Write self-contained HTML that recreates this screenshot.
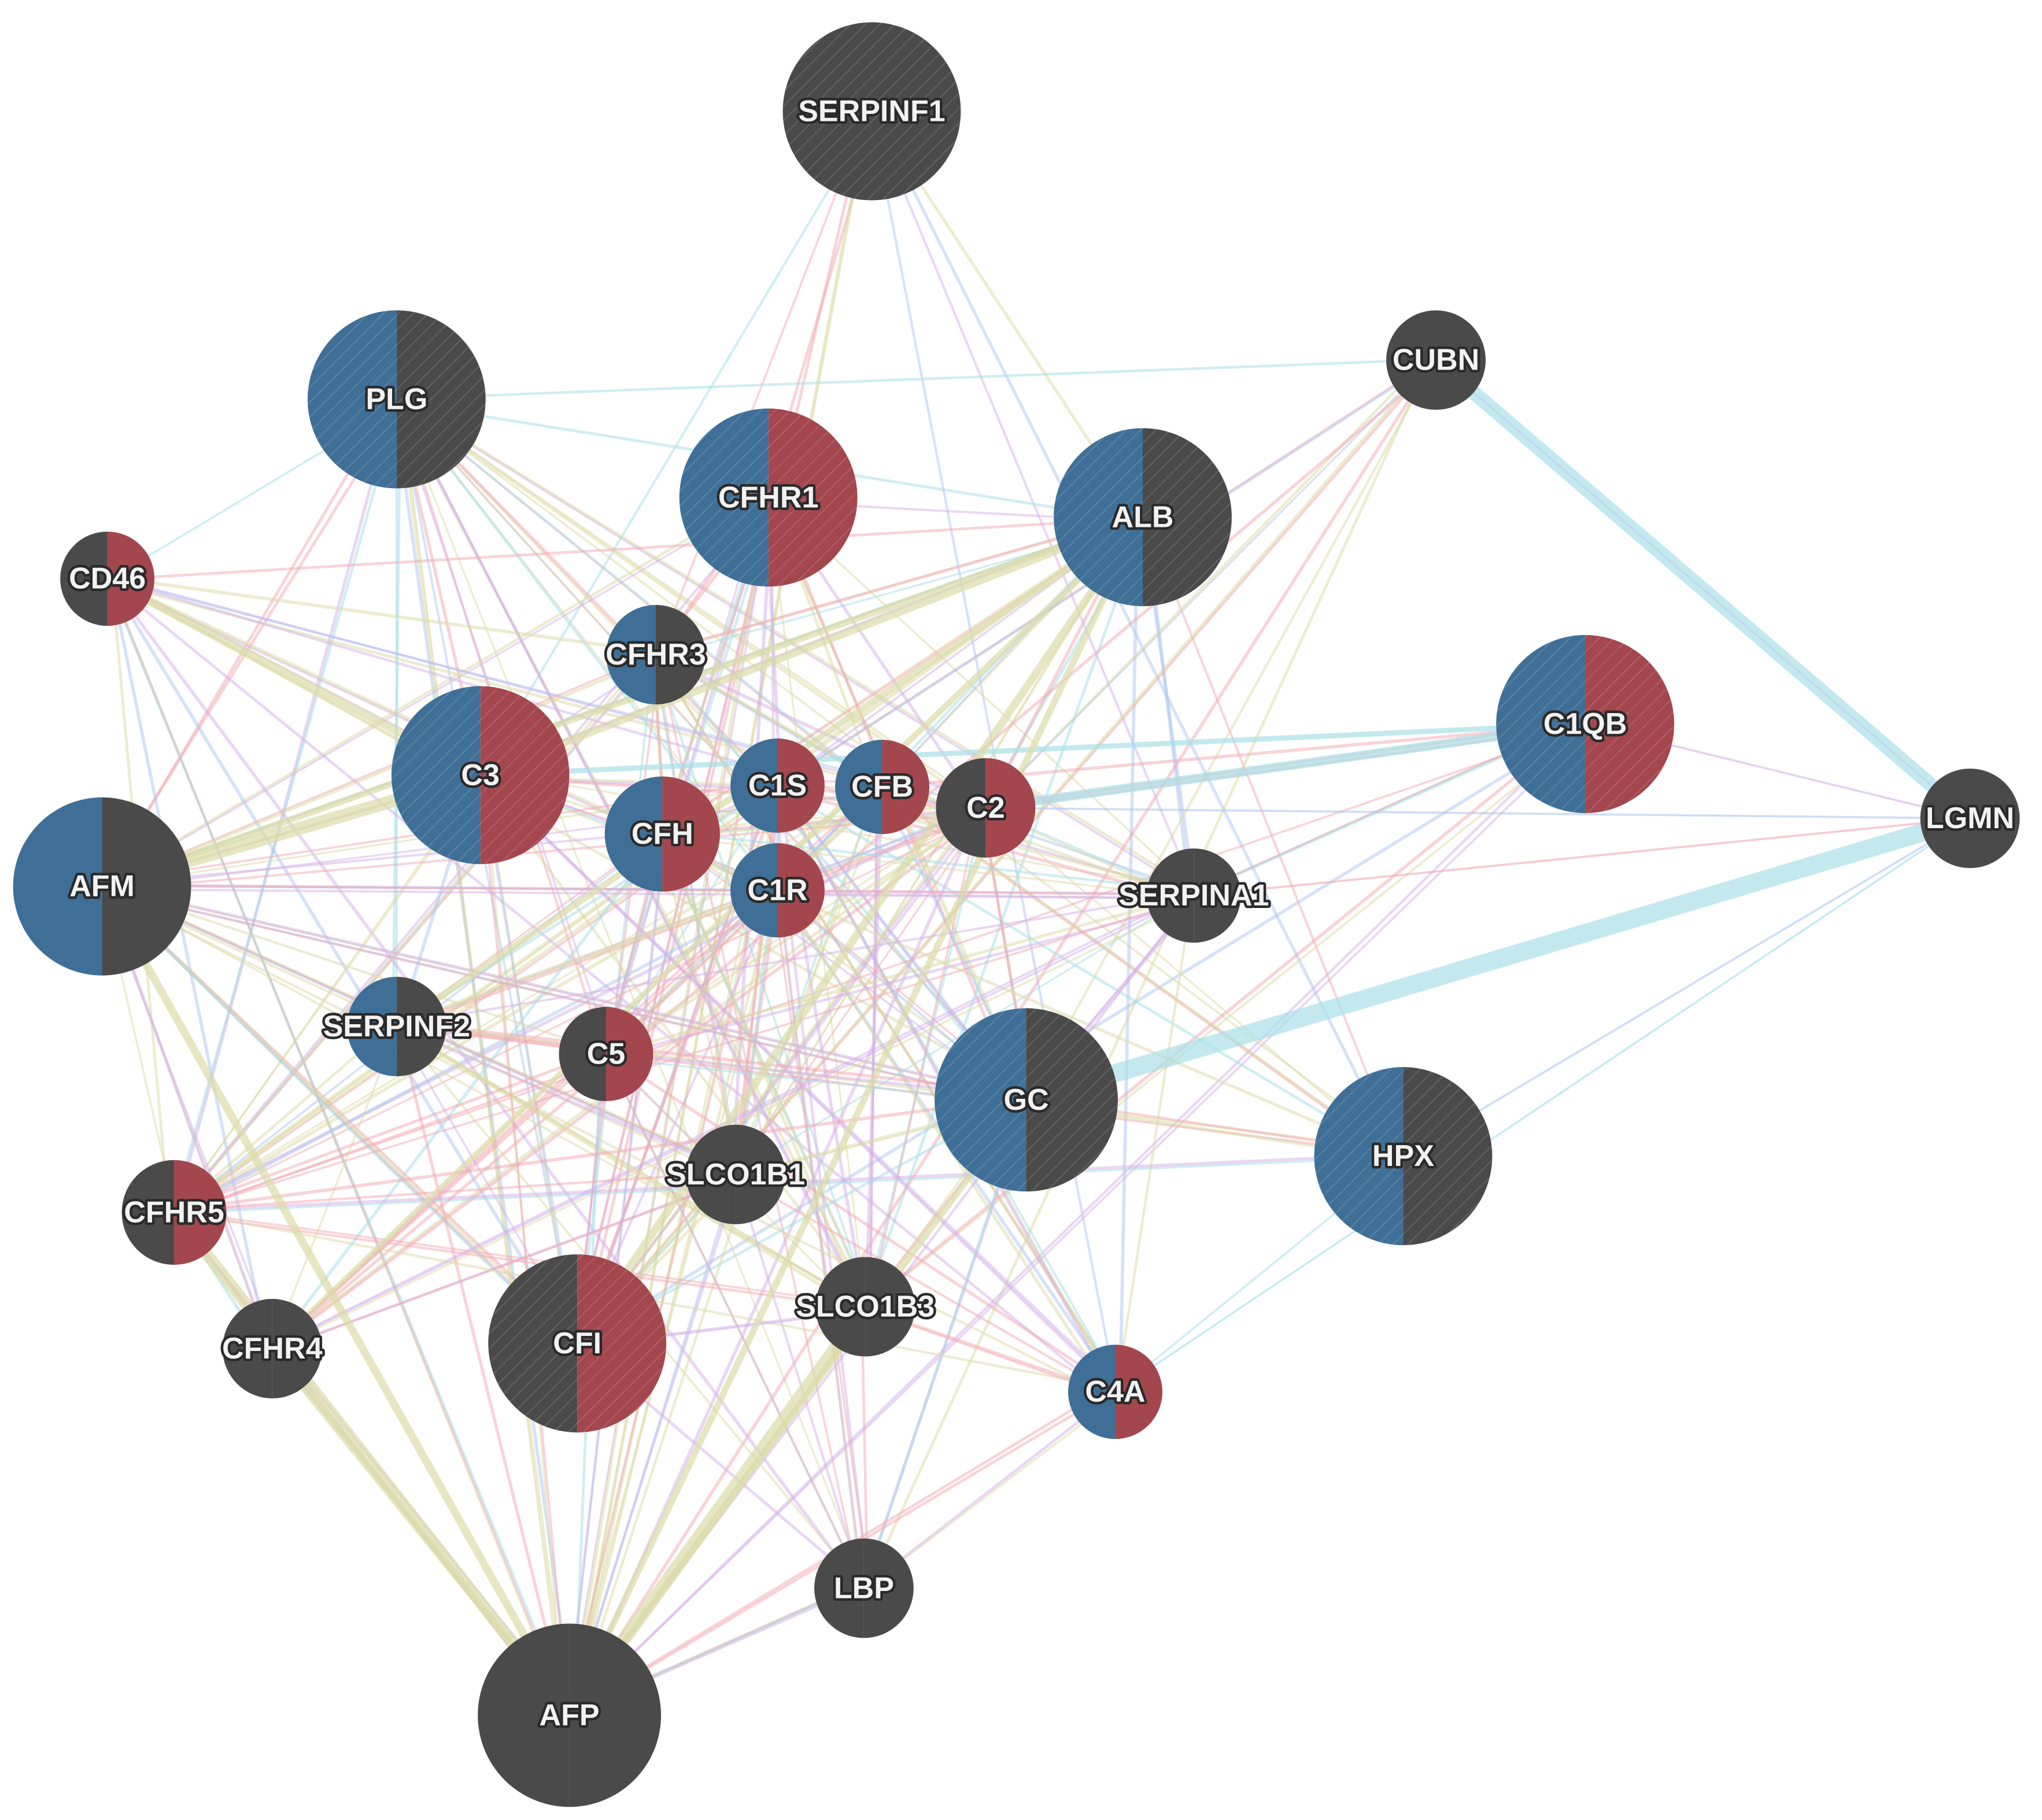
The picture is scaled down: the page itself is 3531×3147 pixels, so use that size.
<!DOCTYPE html>
<html><head><meta charset="utf-8">
<style>
html,body{margin:0;padding:0;background:#fff;}
svg{display:block;}
text{font-family:"Liberation Sans",Arial,sans-serif;font-size:23px;font-weight:bold;fill:#f2f2f2;stroke:#2a2a2a;stroke-width:4px;paint-order:stroke;stroke-linejoin:round;text-anchor:middle;dominant-baseline:central;}
</style></head>
<body>
<svg id="s" width="3531" height="3147" viewBox="0 0 1560 1390" preserveAspectRatio="none" xmlns="http://www.w3.org/2000/svg">
<defs>
<pattern id="h" width="8" height="8" patternUnits="userSpaceOnUse" patternTransform="rotate(45)">
<line x1="0" y1="0" x2="0" y2="8" stroke="#ffffff" stroke-opacity="0.12" stroke-width="2"/>
</pattern>
</defs>
<g id="edges"></g>
<g id="thick"></g>
<g id="nodes"></g>
<g id="labels">
<text x="666" y="85">SERPINF1</text>
<text x="303" y="305">PLG</text>
<text x="587" y="380">CFHR1</text>
<text x="873" y="395">ALB</text>
<text x="1097" y="275">CUBN</text>
<text x="82" y="442">CD46</text>
<text x="501" y="500">CFHR3</text>
<text x="1211" y="553">C1QB</text>
<text x="1505" y="625">LGMN</text>
<text x="367" y="592">C3</text>
<text x="594" y="600">C1S</text>
<text x="674" y="601">CFB</text>
<text x="753" y="617">C2</text>
<text x="506" y="637">CFH</text>
<text x="594" y="680">C1R</text>
<text x="78" y="677">AFM</text>
<text x="912" y="684">SERPINA1</text>
<text x="303" y="784">SERPINF2</text>
<text x="463" y="805">C5</text>
<text x="784" y="840">GC</text>
<text x="1072" y="883">HPX</text>
<text x="562" y="897">SLCO1B1</text>
<text x="133" y="926">CFHR5</text>
<text x="661" y="998">SLCO1B3</text>
<text x="441" y="1026">CFI</text>
<text x="208" y="1030">CFHR4</text>
<text x="852" y="1063">C4A</text>
<text x="660" y="1213">LBP</text>
<text x="435" y="1310">AFP</text>
</g>
</svg>
<script>
var B="#3f6f96",D="#4a4a4a",R="#a3464d";
var N={
SERPINF1:[666,85,68,D,D,1],PLG:[303,305,68,B,D,1],CFHR1:[587,380,68,B,R,1],ALB:[873,395,68,B,D,1],
CUBN:[1097,275,38,D,D,0],CD46:[82,442,36,D,R,0],CFHR3:[501,500,38,B,D,0],C1QB:[1211,553,68,B,R,1],
LGMN:[1505,625,38,D,D,0],C3:[367,592,68,B,R,1],C1S:[594,600,36,B,R,0],CFB:[674,601,36,B,R,0],
C2:[753,617,38,D,R,0],CFH:[506,637,44,B,R,0],C1R:[594,680,36,B,R,0],AFM:[78,677,68,B,D,0],
SERPINA1:[912,684,36,D,D,0],SERPINF2:[303,784,38,B,D,0],C5:[463,805,36,D,R,0],GC:[784,840,70,B,D,1],
HPX:[1072,883,68,B,D,1],SLCO1B1:[562,897,38,D,D,0],CFHR5:[133,926,40,D,R,0],SLCO1B3:[661,998,38,D,D,0],
CFI:[441,1026,68,D,R,1],CFHR4:[208,1030,38,D,D,0],C4A:[852,1063,36,B,R,0],LBP:[660,1213,38,D,D,0],AFP:[435,1310,70,D,D,0]};
var ns="http://www.w3.org/2000/svg";
function el(t,a,p){var e=document.createElementNS(ns,t);for(var k in a)e.setAttribute(k,a[k]);p.appendChild(e);return e;}
var seed=12345;function rnd(){seed=(seed*1103515245+12345)%2147483648;return seed/2147483648;}
var pal=["#f4a7b1","#d3b0ea","#dcdaa4","#adc6f0","#a2dde6","#f4a7b1","#d3b0ea","#dcdaa4","#dcdaa4"];
var E=document.getElementById("edges"),T=document.getElementById("thick"),G=document.getElementById("nodes");
var names=Object.keys(N);
var pn={LGMN:0,CUBN:0.22,SERPINF1:0.32,C1QB:0.3,HPX:0.55,LBP:0.55,C4A:0.6,CD46:0.6};
for(var i=0;i<names.length;i++)for(var j=i+1;j<names.length;j++){
 var a=N[names[i]],b=N[names[j]];
 var p=0.8;
 var pa=pn[names[i]],pb=pn[names[j]];
 if(pa!==undefined)p=Math.min(p,pa);
 if(pb!==undefined)p=Math.min(p,pb);
 var n=0;while(rnd()<p&&n<4){n++;p*=0.7;
  var c=pal[Math.floor(rnd()*pal.length)],o=(rnd()-0.5)*8;
  el("line",{x1:a[0]+o,y1:a[1]+o,x2:b[0]-o,y2:b[1]+o,stroke:c,"stroke-width":1.4+rnd()*1.2,"stroke-opacity":0.5},E);}
}
var extra=[["LGMN","C1QB","#d3b0ea"],["LGMN","SERPINA1","#f4a7b1"],["LGMN","C2","#adc6f0"],["LGMN","CUBN","#d3b0ea"],["LGMN","C4A","#a2dde6"],["LGMN","HPX","#adc6f0"]];
extra.forEach(function(t){var a=N[t[0]],b=N[t[1]];el("line",{x1:a[0],y1:a[1],x2:b[0],y2:b[1],stroke:t[2],"stroke-width":1.6,"stroke-opacity":0.6},E);});
var th=[["CUBN","LGMN","#a9e0e8",11],["LGMN","GC","#a9e0e8",14],["C1QB","C2","#a9e0e8",7],["C1QB","C3","#a9e0e8",4],
["AFP","CFHR5","#dcdcaa",9],["AFP","AFM","#dcdcaa",6],["AFP","SLCO1B3","#dcdcaa",10],["AFP","CFHR4","#dcdcaa",6],["AFP","ALB","#dcdcaa",5],
["C3","AFM","#dcdcaa",10],["CD46","C3","#dcdcaa",6],["ALB","C3","#dcdcaa",6],["ALB","CFI","#dcdcaa",6],["AFP","GC","#dcdcaa",5],["ALB","SERPINF2","#dcdcaa",5],["ALB","AFM","#dcdcaa",5],["ALB","CFHR4","#dcdcaa",4]];
th.forEach(function(t){var a=N[t[0]],b=N[t[1]];el("line",{x1:a[0],y1:a[1],x2:b[0],y2:b[1],stroke:t[2],"stroke-width":t[3],"stroke-opacity":0.7},T);});
names.forEach(function(k){var n=N[k],x=n[0],y=n[1],r=n[2];
 el("path",{d:"M"+x+","+(y-r)+" A"+r+","+r+" 0 0,0 "+x+","+(y+r)+" Z",fill:n[3]},G);
 el("path",{d:"M"+x+","+(y-r)+" A"+r+","+r+" 0 0,1 "+x+","+(y+r)+" Z",fill:n[4]},G);
 if(n[5])el("circle",{cx:x,cy:y,r:r,fill:"url(#h)"},G);
});
</script>
</body></html>
